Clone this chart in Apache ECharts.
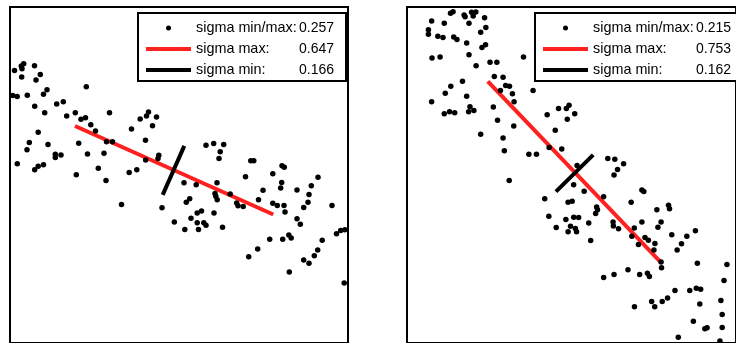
<!DOCTYPE html>
<html>
<head>
<meta charset="utf-8">
<script src="https://cdn.jsdelivr.net/npm/echarts@6/dist/echarts.min.js"></script>
<style>
html,body{margin:0;padding:0;background:#fff;}
#chart{width:736px;height:343px;}
</style>
</head>
<body>
<div id="chart"></div>
<script>
// ---- data ----
const sigmaLabels = ['sigma min/max:', 'sigma max:', 'sigma min:'];
const leftSigmas = ['0.257', '0.647', '0.166'];
const rightSigmas = ['0.215', '0.753', '0.162'];

const leftX = [4.5,11.3,13.7,12,24.5,30.3,26,11.7,2.7,7.2,17.3,33.5,37,24.7,34.7,46.7,53.3,56.7,65.3,76.3,71,75.5,80.8,85.5,99.5,28.2,19.3,17,38,45.3,45.3,51,68.7,77.5,94,96.5,102.5,7.3,24.7,28.2,33.5,66.3,88.3,96,119.2,126.8,121.5,130.2,136.5,138.5,146.5,142.5,135.5,135.7,148.8,148,111.5,152,164.3,196,203.7,213.7,210.2,209,240.8,243.8,272,274.3,235.5,262.8,308,174,186.2,176.3,179.7,207,205,205.8,207.2,220.2,226.7,228,233.2,248.5,253,271.7,270.7,262.8,267.3,274,275,287,301.3,299,298,293.7,322,287,290.3,204,181,187.2,191.5,187.2,193.8,196,174.8,188.5,212.5,259.7,272.7,278.8,281.2,312.2,326.5,330.7,334.8,307.7,304.3,293.7,299,247.7,238.7,279.3,334.2];
const leftY = [274.2,278.7,281,276,279,270,264.5,267.7,249,248,249.3,250.2,254.7,238.2,231.7,240.3,242.7,228.3,231.7,257.8,225,226.5,219.5,213.2,231.7,212,201.8,194.3,199.8,189.8,186.7,189.2,201,190,191,202.5,202.5,180.2,174.3,177.8,179.2,169.3,175.7,163.5,171.5,174.3,215.2,225.3,228.3,232.5,227.3,218.5,204,184,188.8,185.7,139.3,136,121.8,199,200.8,199.7,192.3,185.7,183.3,183.3,178.3,176.7,167.2,170.2,166.8,161.3,159.2,141.7,145,161.3,150.5,147.7,144,150,140.8,138,137.3,144,153.7,161.5,156,140.7,138.3,138.3,131.7,153.8,158.3,149.3,141.7,136.2,138.3,125,119.5,130.7,125.5,130.7,132.7,121,121,118.5,114.3,114.3,116.5,104.3,104.3,108.7,105.7,103.3,109.8,113.2,113.8,93.5,87.7,83.5,80.3,94.5,86.7,71.5,60.3];

const rightX = [44.7,47.3,58.7,59.7,66.3,70.7,68,79.7,25.3,38.3,63.7,81,75.7,22,22,31.7,37,48,51.3,61.3,77,80.7,25.7,34,63.7,71,85.3,92.3,119.7,89.7,98.7,101.3,105.3,108.3,110,96,57,45,39.3,61.3,25.3,64.7,68.7,63.3,38.3,43.7,49,88.7,93,109.7,129.5,144,155.7,163.7,166.5,172.3,164.7,152.3,75.7,98.7,100,125.2,133,146,159,174.7,206.3,213.5,222.5,216.3,212.7,202,230.3,241.3,243.3,256.7,268.7,269.7,141.5,165.5,169.7,194.8,195.7,193.8,145.7,171.3,176.3,105,153.3,163.2,165.5,168,173,174.2,171.2,182,186.7,188.7,211.7,212,217.3,241.3,261,257.8,233.5,272,287.5,296.3,231,244.5,248,254.7,237.8,282,277.5,253.7,261,261.5,298.3,328.7,202,212.7,227,239,247,249,275.3,290.5,297.2,301.7,325.7,233.7,251.3,254.5,262.2,267.7,300.8,322.5,323.8,294.2,306,308.3,323.8,278.7,321.5];
const rightY = [331.7,333.3,330,328.3,332.7,333,329,327.3,324,321.7,321.7,317.3,312.7,315,310.7,308.7,307.3,307.7,305.3,301.7,297.3,300,286.7,287.7,290,279,282.3,282.3,287.7,268,267.3,259,258.3,250.7,242.7,254,263.3,258.3,251.3,248.3,242.7,237.7,234,232.7,230.7,232.7,231.7,237.3,224,218.3,254,229.5,236,236,239.2,230.5,225.2,214,210,206.3,193.3,189.8,189.8,196.7,195.2,178.5,185.7,184.8,180.2,174.5,169,147.2,141.7,153.8,152.3,134,138.5,135,145,141.5,142.7,136.8,134,130.2,127.5,126.5,126.2,163.5,116.3,124.2,112,117.5,115.2,112,159.2,152.7,120.7,103,121.7,117.7,115,121.8,121.7,116.4,115.7,108.8,107.5,113,107.3,106.2,103.3,100,99,99.8,93.5,93.5,81.5,75.7,80.2,79,65.8,69,73.7,69,70.2,67,52.7,52.7,55,54,62.8,36.5,41.7,36.5,41.7,45.2,39.3,42.8,28.7,22,14.3,15.3,15.7,5.7,2];

// principal axes (end points)
const leftMaxX = [65, 263.3], leftMaxY = [218.3, 129.3];
const leftMinX = [174.3, 152.7], leftMinY = [198.3, 149];
const rightMaxX = [83, 261.3], rightMaxY = [263.3, 80.7];
const rightMinX = [191.3, 153], rightMinY = [189.3, 152.3];

// ---- build ----
const zip = (xs, ys) => xs.map((x, i) => [x, ys[i]]);
const RED = '#ff2020';
const FONT = 'Liberation Sans, Arial, sans-serif';
const DOT_ICON = 'path://M0,0M45,14M20,7a2.5,2.5 0 1 0 5,0a2.5,2.5 0 1 0 -5,0Z';
const LINE_ICON = 'path://M0,0M45,14M0,5H45V9H0Z';

function names(vals) { return sigmaLabels.map((l, i) => l + ' ' + vals[i]); }
const leftNames = names(leftSigmas);
const rightNames = names(rightSigmas);

function panelSeries(idx, nm, px, py, mx, my, nx, ny) {
  return [
    { name: nm[1], type: 'line', xAxisIndex: idx, yAxisIndex: idx, data: zip(mx, my),
      symbol: 'none', color: RED, lineStyle: { width: 4, color: RED, cap: 'butt' }, z: 2 },
    { name: nm[2], type: 'line', xAxisIndex: idx, yAxisIndex: idx, data: zip(nx, ny),
      symbol: 'none', color: '#000', lineStyle: { width: 4, color: '#000', cap: 'butt' }, z: 3 },
    { name: nm[0], type: 'scatter', xAxisIndex: idx, yAxisIndex: idx, data: zip(px, py),
      symbolSize: 5.5, color: '#000', itemStyle: { color: '#000', opacity: 1 }, z: 4 }
  ];
}

function legendFor(nm, left) {
  return {
    show: true, orient: 'vertical', left: left, top: 13,
    padding: [8, 12, 4, 8], itemGap: 7, itemWidth: 45, itemHeight: 14,
    borderColor: '#000', borderWidth: 2, backgroundColor: '#fff',
    selectedMode: false,
    data: [
      { name: nm[0], icon: DOT_ICON },
      { name: nm[1], icon: LINE_ICON },
      { name: nm[2], icon: LINE_ICON }
    ],
    formatter: function (name) {
      const k = name.lastIndexOf(' ');
      return '{a|' + name.slice(0, k) + '}{b|' + name.slice(k + 1) + '}';
    },
    textStyle: {
      color: '#000', fontSize: 14, fontFamily: FONT,
      rich: {
        a: { width: 103, fontSize: 14.4, fontFamily: FONT, color: '#000', lineHeight: 14 },
        b: { width: 35, align: 'right', fontSize: 14, fontFamily: FONT, color: '#000', lineHeight: 14 }
      }
    }
  };
}

const hiddenAxis = (idx) => ({
  gridIndex: idx, type: 'value', min: 0, max: 338,
  axisLine: { show: false }, axisTick: { show: false },
  axisLabel: { show: false }, splitLine: { show: false }
});

const option = {
  animation: false,
  backgroundColor: '#fff',
  grid: [
    { left: 10, top: 7, width: 338, height: 338, show: true, borderColor: '#000', borderWidth: 2, backgroundColor: 'transparent' },
    { left: 407, top: 7, width: 338, height: 338, show: true, borderColor: '#000', borderWidth: 2, backgroundColor: 'transparent' }
  ],
  xAxis: [hiddenAxis(0), hiddenAxis(1)],
  yAxis: [hiddenAxis(0), hiddenAxis(1)],
  legend: [legendFor(leftNames, 138), legendFor(rightNames, 535)],
  series: [].concat(
    panelSeries(0, leftNames, leftX, leftY, leftMaxX, leftMaxY, leftMinX, leftMinY),
    panelSeries(1, rightNames, rightX, rightY, rightMaxX, rightMaxY, rightMinX, rightMinY)
  )
};

const chart = echarts.init(document.getElementById('chart'), null, { renderer: 'canvas' });
chart.setOption(option);
</script>
</body>
</html>
